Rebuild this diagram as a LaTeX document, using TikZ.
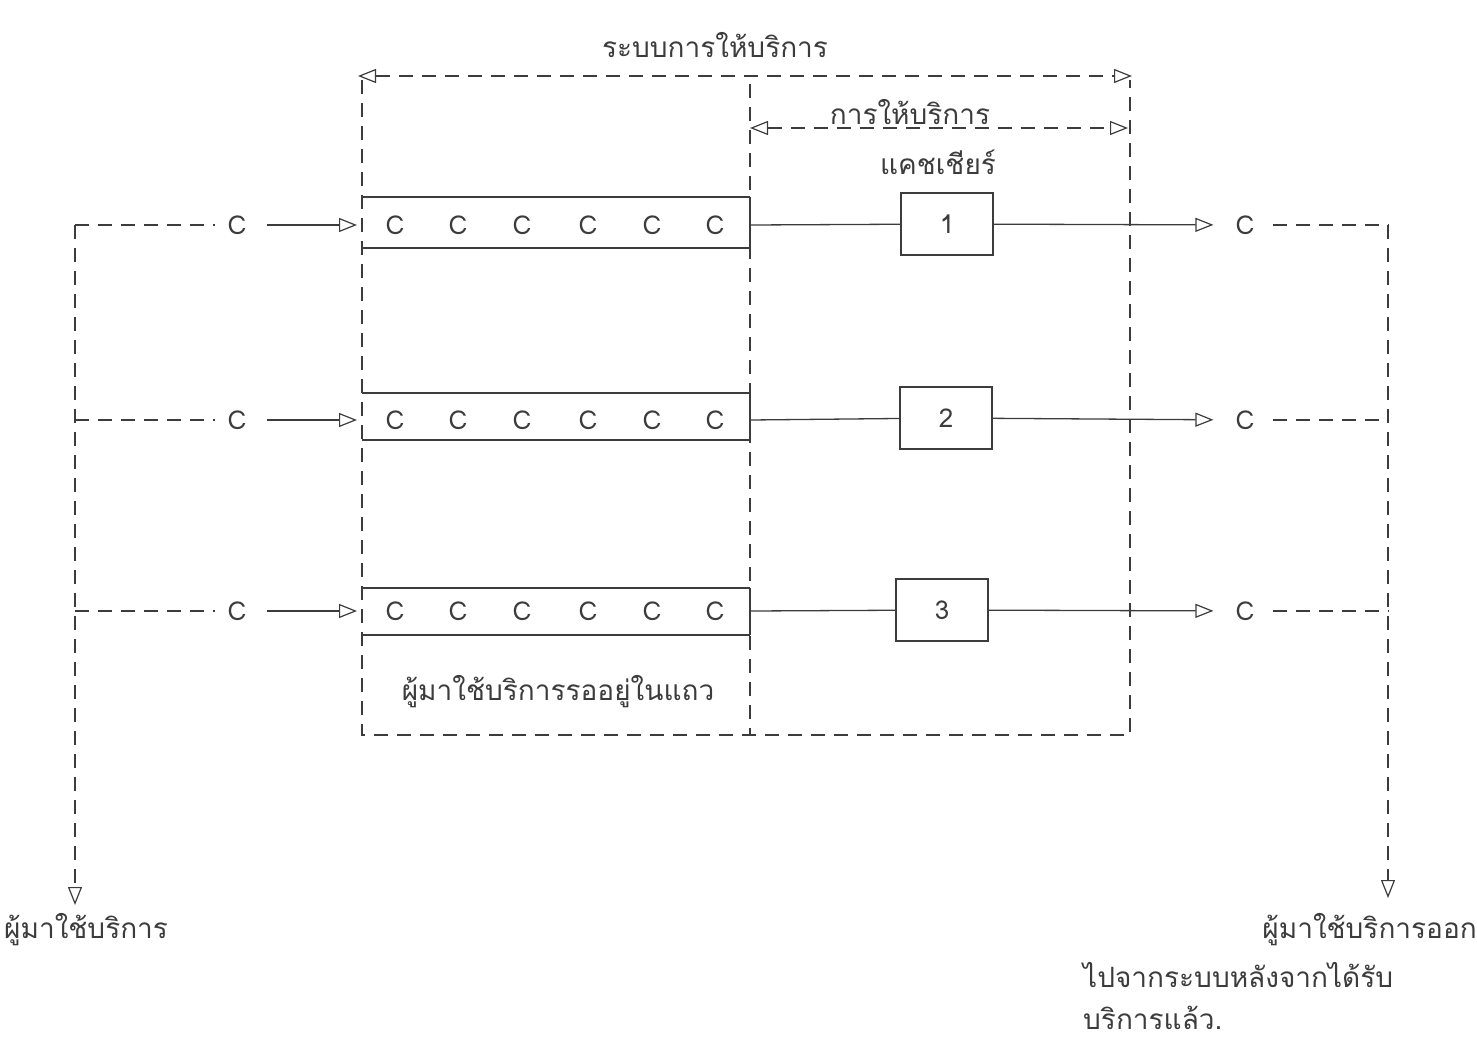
\documentclass[tikz,border=0pt]{standalone}
\usepackage{fontspec}
\newfontfamily\thaifont[Script=Thai]{Loma}
\usetikzlibrary{arrows.meta}
\definecolor{ink}{RGB}{60,60,60}
\begin{document}
\begin{tikzpicture}[x=1pt,y=-1pt,
  ink/.style={draw=ink,line width=1.3pt},
  dsh/.style={ink,dash pattern=on 14pt off 9pt},
  sol/.style={ink},
  tip/.tip={Triangle[open,length=18pt,width=14pt,line width=1.2pt]},
  cnode/.style={text=ink,font=\thaifont\fontsize{26}{30}\selectfont,inner sep=2pt},
  thai/.style={text=ink,font=\thaifont\fontsize{28}{34}\selectfont,inner sep=0pt},
  srv/.style={ink,minimum width=92pt,minimum height=62pt,text=ink,font=\thaifont\fontsize{26}{30}\selectfont},
  dim/.style={dsh,{tip}-{tip}}]
\useasboundingbox (0,0) rectangle (1477,1045);
% frame coordinates
\coordinate (sysTL) at (362,80);
\coordinate (sysBL) at (362,735);
\coordinate (sysBR) at (1130,735);
\coordinate (sysTR) at (1130,80);
\coordinate (midT) at (750,84);
\coordinate (midB) at (750,735);
\draw[dsh] (sysTL) -- (sysBL) -- (sysBR) -- (sysTR);
\draw[dsh] (midT) -- (midB);
% dimension arrows
\coordinate (dA1) at (358,76);
\coordinate (dA2) at (1132,76);
\coordinate (dB1) at (750,128);
\coordinate (dB2) at (1128,128);
\draw[dim] (dA1) -- (dA2);
\draw[dim] (dB1) -- (dB2);
\node[thai] (tSys) at (715,45) {ระบบการให้บริการ};
\node[thai] (tSrv) at (910,112) {การให้บริการ};
\node[thai] (tCash) at (938,162) {แคชเชียร์};
% rows
\foreach \r/\y/\qt/\qb/\bx/\by/\lab in {1/225/197/248/947/224/1, 2/420/393/440/946/418/2, 3/611/588/635/942/610/3} {
  \coordinate (L\r) at (75,\y);
  \coordinate (R\r) at (1388,\y);
  \coordinate (qin\r) at (357,\y);
  \coordinate (qout\r) at (750,\y);
  \coordinate (qtl\r) at (362,\qt);
  \coordinate (qtr\r) at (750,\qt);
  \coordinate (qbl\r) at (362,\qb);
  \coordinate (qbr\r) at (750,\qb);
  \node[cnode] (cin\r) at (237,\y) {C};
  \node[cnode] (cout\r) at (1245,\y) {C};
  \foreach \k/\cx in {1/395,2/458,3/522,4/588,5/652,6/715} {
    \node[cnode] (q\r-\k) at (\cx,\y) {C};
  }
  \node[srv,draw] (box\r) at (\bx,\by) {\lab};
  \draw[dsh,shorten >=10pt] (L\r) -- (cin\r);
  \draw[sol,-{tip},shorten <=18pt] (cin\r) -- (qin\r);
  \draw[sol] (qtl\r) -- (qtr\r);
  \draw[sol] (qbl\r) -- (qbr\r);
  \draw[sol] (qtr\r) -- (qbr\r);
  \draw[sol] (qout\r) -- (box\r);
  \draw[sol,-{tip},shorten >=20pt] (box\r) -- (cout\r);
  \draw[dsh,shorten <=16pt] (cout\r) -- (R\r);
}
\coordinate (Lend) at (75,905);
\coordinate (Rend) at (1388,898);
\draw[dsh,-{tip}] (L1) -- (Lend);
\draw[dsh,-{tip}] (R1) -- (Rend);
% labels
\node[thai] (tQueue) at (558,692) {ผู้มาใช้บริการรออยู่ในแถว};
\node[thai,anchor=west] (tIn) at (4,930) {ผู้มาใช้บริการ};
\node[thai,anchor=east] (tOut1) at (1477,930) {ผู้มาใช้บริการออก};
\node[thai,anchor=west] (tOut2) at (1083,975) {ไปจากระบบหลังจากได้รับ};
\node[thai,anchor=west] (tOut3) at (1083,1018) {บริการแล้ว.};
\end{tikzpicture}
\end{document}
